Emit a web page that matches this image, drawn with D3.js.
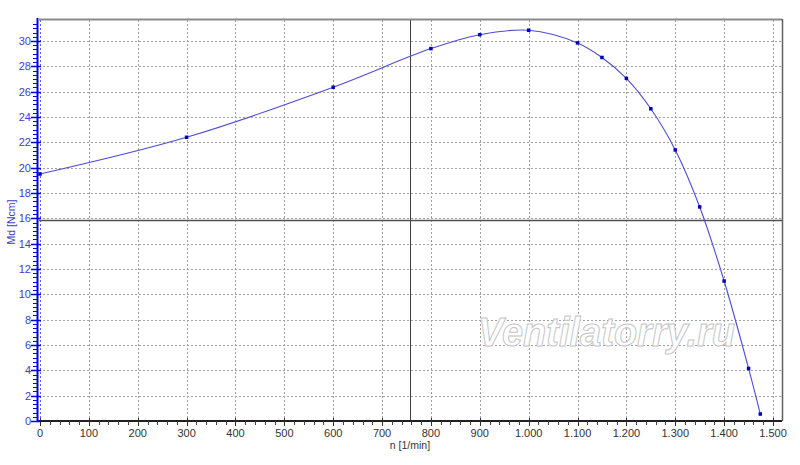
<!DOCTYPE html>
<html><head><meta charset="utf-8">
<script src="https://cdn.jsdelivr.net/npm/d3@7/dist/d3.min.js"></script>
<style>
html,body{margin:0;padding:0;background:#fff;}
svg{display:block;}
</style></head>
<body><svg id="c" width="800" height="465"></svg>
<script>
// Data
const speed  = [0, 300, 600, 800, 900, 1000, 1100, 1150, 1200, 1250, 1300, 1350, 1400, 1450, 1474];
const torque = [19.5, 22.4, 26.35, 29.4, 30.5, 30.85, 29.85, 28.7, 27.05, 24.65, 21.4, 16.9, 11.05, 4.15, 0.55];
const xTicks = [0,100,200,300,400,500,600,700,800,900,1000,1100,1200,1300,1400,1500];
const yTicks = [0,2,4,6,8,10,12,14,16,18,20,22,24,26,28,30];
const crossX = 758;
const crossY = 15.85;
const xTitle = "n [1/min]";
const yTitle = "Md [Ncm]";
const watermark = "Ventilatorry.ru";

(function(){
const svg = d3.select("#c");
const pL = 39, pR = 782, pT = 20, pB = 421;
const x = d3.scaleLinear().domain([0,1500]).range([40,773]);
const y = d3.scaleLinear().domain([0,30]).range([421,41]);
const fmtX = v => v >= 1000 ? d3.format(",")(v).replace(",", ".") : String(v);

// grid
const g = svg.append("g");
g.selectAll(".gx").data(xTicks.filter(d=>d>0)).enter().append("line")
  .attr("x1", d=>Math.round(x(d))+0.5).attr("x2", d=>Math.round(x(d))+0.5)
  .attr("y1", pT).attr("y2", pB)
  .attr("stroke","#a0a0a0").attr("stroke-dasharray","2,2");
g.selectAll(".gy").data(yTicks.filter(d=>d>0)).enter().append("line")
  .attr("y1", d=>Math.round(y(d))+0.5).attr("y2", d=>Math.round(y(d))+0.5)
  .attr("x1", pL).attr("x2", pR)
  .attr("stroke","#a0a0a0").attr("stroke-dasharray","2,2");
g.append("line").attr("x1", Math.round(x(0))+0.5).attr("x2", Math.round(x(0))+0.5)
  .attr("y1", pT).attr("y2", pB).attr("stroke","#6060e0").attr("stroke-dasharray","2,2");

// watermark
svg.append("text").attr("x", 478).attr("y", 346)
  .attr("font-family","Liberation Sans, Arial, sans-serif").attr("font-style","italic")
  .attr("font-weight","bold")
  .attr("font-size", 40).attr("textLength", 257).attr("lengthAdjust","spacingAndGlyphs")
  .attr("fill","#ffffff").attr("stroke","#c4c4c4").attr("stroke-width",1)
  .text(watermark);

// borders
svg.append("line").attr("x1",pL).attr("x2",pR).attr("y1",pT-0.5).attr("y2",pT-0.5)
  .attr("stroke","#8a8a8a").attr("stroke-width",2);
svg.append("line").attr("x1",pR+0.5).attr("x2",pR+0.5).attr("y1",pT-1).attr("y2",pB)
  .attr("stroke","#606060").attr("stroke-width",1.5);

// crosshair
svg.append("line").attr("x1", Math.round(x(crossX))+0.5).attr("x2", Math.round(x(crossX))+0.5)
  .attr("y1", pT).attr("y2", pB).attr("stroke","#404040").attr("stroke-width",1);
svg.append("line").attr("y1", Math.round(y(crossY))+0.5).attr("y2", Math.round(y(crossY))+0.5)
  .attr("x1", pL).attr("x2", pR).attr("stroke","#505050").attr("stroke-width",1.4);

// curve
const pts = speed.map((s,i)=>[s, torque[i]]);
const line = d3.line().x(d=>x(d[0])).y(d=>y(d[1])).curve(d3.curveCatmullRom.alpha(0.5));
svg.append("path").attr("d", line(pts)).attr("fill","none").attr("stroke","#4c4cd6").attr("stroke-width",1.1);
svg.selectAll(".pt").data(pts).enter().append("rect")
  .attr("x", d=>x(d[0])-1.75).attr("y", d=>y(d[1])-1.75).attr("width",3.5).attr("height",3.5)
  .attr("fill","#0000c0");

// x axis
const xa = svg.append("g");
xa.append("line").attr("x1", pL-1).attr("x2", pR).attr("y1", pB).attr("y2", pB)
  .attr("stroke","#202020").attr("stroke-width",2);
const xMinor = d3.range(0, 1520, 20).filter(v => v % 100 !== 0);
xa.selectAll(".xm").data(xMinor).enter().append("line")
  .attr("x1", d=>Math.round(x(d))+0.5).attr("x2", d=>Math.round(x(d))+0.5)
  .attr("y1", pB).attr("y2", pB+4).attr("stroke","#404040");
xa.selectAll(".xM").data(xTicks).enter().append("line")
  .attr("x1", d=>Math.round(x(d))+0.5).attr("x2", d=>Math.round(x(d))+0.5)
  .attr("y1", pB-3).attr("y2", pB+5).attr("stroke","#303030");
xa.selectAll(".xl").data(xTicks).enter().append("text")
  .attr("x", d=>x(d)).attr("y", pB+16).attr("text-anchor","middle")
  .attr("font-family","Liberation Sans, Arial, sans-serif").attr("font-size",11)
  .attr("fill","#333").text(fmtX);
svg.append("text").attr("x", 410).attr("y", 449).attr("text-anchor","middle")
  .attr("font-family","Liberation Sans, Arial, sans-serif").attr("font-size",10.5)
  .attr("fill","#333").text(xTitle);

// y axis
const ya = svg.append("g");
ya.append("line").attr("x1", 37.5).attr("x2", 37.5).attr("y1", pT-2).attr("y2", pB+1)
  .attr("stroke","#0000e0").attr("stroke-width",2);
const yMinor = d3.range(0, 96).map(i => i/3).filter(v => Math.abs(v/2 - Math.round(v/2)) > 0.01 && y(v) >= pT);
ya.selectAll(".ym").data(yMinor).enter().append("line")
  .attr("y1", d=>Math.round(y(d))+0.5).attr("y2", d=>Math.round(y(d))+0.5)
  .attr("x1", 33).attr("x2", 37).attr("stroke","#0000e0");
ya.selectAll(".yM").data(yTicks).enter().append("line")
  .attr("y1", d=>Math.round(y(d))+0.5).attr("y2", d=>Math.round(y(d))+0.5)
  .attr("x1", 31).attr("x2", 41).attr("stroke","#0000e0").attr("stroke-width",1.5);
ya.selectAll(".yl").data(yTicks).enter().append("text")
  .attr("x", 31).attr("y", d=>y(d)+4).attr("text-anchor","end")
  .attr("font-family","Liberation Sans, Arial, sans-serif").attr("font-size",11)
  .attr("fill","#3c3cd0").text(d=>d);
svg.append("text").attr("transform","translate(15,222) rotate(-90)").attr("text-anchor","middle")
  .attr("font-family","Liberation Sans, Arial, sans-serif").attr("font-size",10.5)
  .attr("fill","#3c3cd0").text(yTitle);
})();
</script></body></html>
